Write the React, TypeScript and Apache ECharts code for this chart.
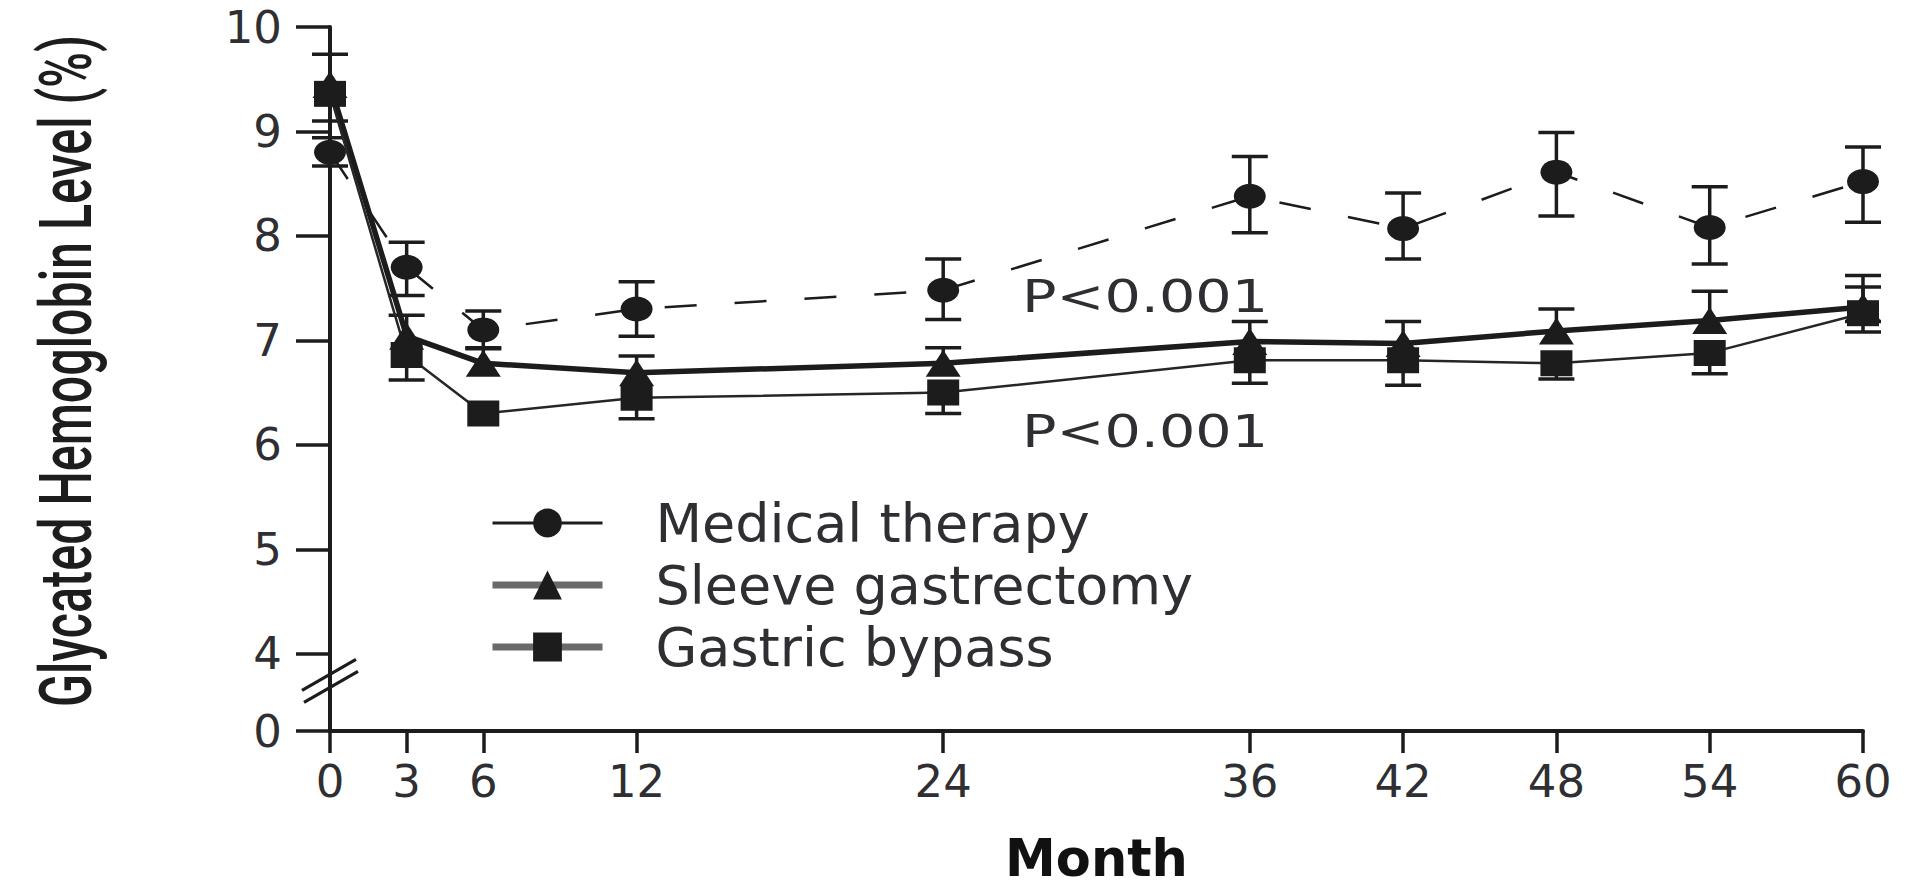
import React, { useEffect, useRef } from "react";
import * as echarts from "echarts";

// Follow-up visits (months)
const months = [0, 3, 6, 12, 24, 36, 42, 48, 54, 60];
const xTickValues = [0, 3, 6, 12, 24, 36, 42, 48, 54, 60];
const yTickValues = [4, 5, 6, 7, 8, 9, 10];

// Glycated hemoglobin (%) by group, with error-bar ends (null = not drawn)
const medical = [8.8, 7.7, 7.1, 7.3, 7.48, 8.38, 8.07, 8.61, 8.08, 8.52];
const medicalLow = [8.67, 7.43, 6.93, 7.04, 7.2, 8.03, 7.78, 8.19, 7.73, 8.13];
const medicalHigh = [8.94, 7.94, 7.28, 7.56, 7.78, 8.76, 8.41, 8.99, 8.47, 8.85];

const sleeve = [9.45, 7.04, 6.78, 6.69, 6.78, 6.99, 6.97, 7.09, 7.19, 7.32];
const sleeveLow = [null, null, null, null, null, null, null, null, null, 7.18];
const sleeveHigh = [9.74, 7.24, 6.92, 6.85, 6.93, 7.18, 7.18, 7.3, 7.47, 7.62];

const bypass = [9.36, 6.86, 6.3, 6.45, 6.5, 6.81, 6.81, 6.78, 6.88, 7.26];
const bypassLow = [9.1, 6.62, null, 6.25, 6.3, 6.59, 6.57, 6.63, 6.68, 7.08];
const bypassHigh = [null, null, null, null, null, null, null, null, null, 7.51];

const seriesNames = ["Medical therapy", "Sleeve gastrectomy", "Gastric bypass"];
const pValueText = "P<0.001";
const yTitle = "Glycated Hemoglobin Level (%)";
const xTitle = "Month";

// Axis value at which the "0" of the broken y-axis is drawn
const AXIS_ZERO_AT = 3.26;
// Where the axis-break marks and the P-value notes sit, in data units
const BREAK_MARK_AT = 3.74;
const pNotes = [
  { month: 31.9, value: 7.42 },
  { month: 31.9, value: 6.12 },
];

const INK = "#1c1c1c";
const TEXT = "#2f2f33";
const FONT = '"DejaVu Sans", sans-serif';
const CAP = 36;

type Num = number | null;

function errorData(vals: number[], lo: Num[], hi: Num[]) {
  return months.map((m, i) => [m, vals[i], lo[i] ?? vals[i], hi[i] ?? vals[i]]);
}

function renderError(_params: any, api: any) {
  const x = api.value(0);
  const v = api.value(1);
  const ends = [api.value(2), api.value(3)];
  const c = api.coord([x, v]);
  const style = { stroke: INK, lineWidth: 3.5, fill: null };
  const children: any[] = [];
  ends.forEach((end: number) => {
    if (end === v) return;
    const e = api.coord([x, end]);
    children.push({ type: "line", shape: { x1: c[0], y1: c[1], x2: e[0], y2: e[1] }, style });
    children.push({
      type: "line",
      shape: { x1: e[0] - CAP / 2, y1: e[1], x2: e[0] + CAP / 2, y2: e[1] },
      style,
    });
  });
  return { type: "group", children };
}

export default function App() {
  const ref = useRef<HTMLDivElement>(null);

  useEffect(() => {
    const el = ref.current;
    if (!el) return;
    const chart = echarts.init(el, null, { renderer: "svg" });

    const lineSeries = (
      name: string,
      vals: number[],
      symbol: string,
      symbolSize: number[],
      lineStyle: any
    ) => ({
      name,
      type: "line",
      data: months.map((m, i) => [m, vals[i]]),
      symbol,
      symbolSize,
      showAllSymbol: true,
      itemStyle: { color: INK },
      lineStyle,
      z: 3,
      silent: true,
    });

    const errSeries = (id: string, vals: number[], lo: Num[], hi: Num[]) => ({
      name: id,
      type: "custom",
      data: errorData(vals, lo, hi),
      encode: { x: 0, y: 1 },
      renderItem: renderError,
      z: 2,
      silent: true,
    });

    chart.setOption({
      animation: false,
      backgroundColor: "#ffffff",
      grid: { left: 330, right: 44, top: 27, bottom: 154, containLabel: false },
      xAxis: {
        type: "value",
        min: 0,
        max: 60,
        name: xTitle,
        nameLocation: "middle",
        nameGap: 102,
        nameTextStyle: { fontFamily: FONT, fontSize: 51, fontWeight: "bold", color: "#111" },
        axisLine: { onZero: false, lineStyle: { color: INK, width: 4 } },
        axisTick: { customValues: xTickValues, length: 22, lineStyle: { color: INK, width: 3.5 } },
        axisLabel: {
          customValues: xTickValues,
          margin: 28,
          fontFamily: FONT,
          fontSize: 45,
          color: TEXT,
        },
        splitLine: { show: false },
      },
      yAxis: {
        type: "value",
        min: AXIS_ZERO_AT,
        max: 10,
        axisLine: { onZero: false, lineStyle: { color: INK, width: 4 } },
        axisTick: {
          customValues: [AXIS_ZERO_AT, ...yTickValues],
          length: 34,
          lineStyle: { color: INK, width: 3.5 },
        },
        axisLabel: {
          customValues: [AXIS_ZERO_AT, ...yTickValues],
          margin: 48,
          fontFamily: FONT,
          fontSize: 45,
          color: TEXT,
          formatter: (v: number) => (v < 4 ? "0" : String(Math.round(v))),
        },
        splitLine: { show: false },
      },
      legend: {
        orient: "vertical",
        left: 484,
        top: 490,
        itemWidth: 110,
        itemHeight: 36,
        itemGap: 6,
        selectedMode: false,
        textStyle: {
          fontFamily: FONT,
          fontSize: 54,
          color: TEXT,
          lineHeight: 56,
          padding: [0, 0, 0, 48],
        },
        data: [
          {
            name: seriesNames[0],
            itemStyle: { color: INK },
            lineStyle: { color: INK, width: 3, type: "solid" },
          },
          { name: seriesNames[1], itemStyle: { color: INK }, lineStyle: { color: "#6a6a6a", width: 7 } },
          { name: seriesNames[2], itemStyle: { color: INK }, lineStyle: { color: "#6a6a6a", width: 7 } },
        ],
      },
      series: [
        errSeries("err-medical", medical, medicalLow, medicalHigh),
        errSeries("err-sleeve", sleeve, sleeveLow, sleeveHigh),
        errSeries("err-bypass", bypass, bypassLow, bypassHigh),
        lineSeries(seriesNames[0], medical, "circle", [32, 25], {
          color: INK,
          width: 2.5,
          type: [32, 38],
        }),
        lineSeries(seriesNames[1], sleeve, "triangle", [35, 27], { color: INK, width: 5.5 }),
        lineSeries(seriesNames[2], bypass, "rect", [32, 26], { color: "#262626", width: 2.5 }),
      ],
    });

    // Decorations placed from the axes' own scales
    const toPx = (m: number, v: number) =>
      chart.convertToPixel({ xAxisIndex: 0, yAxisIndex: 0 }, [m, v]) as number[];

    const [bx, by] = toPx(0, BREAK_MARK_AT);
    const slash = (cx: number, cy: number) => ({
      type: "line",
      shape: { x1: cx - 27, y1: cy + 15.5, x2: cx + 27, y2: cy - 15.5 },
      style: { stroke: INK, lineWidth: 3.2 },
      z: 10,
    });

    const ctx = document.createElement("canvas").getContext("2d");
    let titleScale = 0.7;
    if (ctx) {
      ctx.font = "500 72px Roboto";
      const w = ctx.measureText(yTitle).width;
      if (w > 0) titleScale = 672 / w;
    }

    const notes = pNotes.map((p) => {
      const [px, py] = toPx(p.month, p.value);
      return {
        type: "text",
        x: px,
        y: py,
        scaleX: 1.3,
        style: {
          text: pValueText,
          fontFamily: FONT,
          fontSize: 44,
          fill: TEXT,
          align: "center",
          verticalAlign: "middle",
        },
        z: 10,
      };
    });

    chart.setOption({
      graphic: [
        slash(bx - 1, by - 6),
        slash(bx + 1, by + 6),
        ...notes,
        {
          type: "text",
          x: 66,
          y: 371,
          rotation: Math.PI / 2,
          scaleX: titleScale,
          style: {
            text: yTitle,
            fontFamily: "Roboto, sans-serif",
            fontWeight: 500,
            fontSize: 72,
            fill: "#1d1d1d",
            align: "center",
            verticalAlign: "middle",
          },
          z: 10,
        },
      ],
    });

    return () => chart.dispose();
  }, []);

  return (
    <div
      ref={ref}
      style={{ position: "fixed", left: 0, top: 0, width: "1907px", height: "889px", background: "#fff" }}
    />
  );
}
